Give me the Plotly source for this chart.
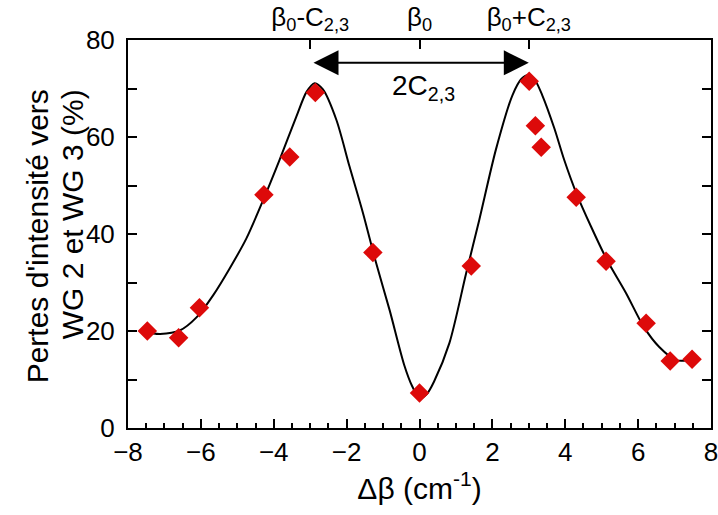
import plotly.graph_objects as go

# Measured points (red diamonds)
x_meas = [-7.47, -6.61, -6.04, -4.27, -3.56, -2.86, -1.28, 0.00, 1.42, 3.01, 3.18, 3.34, 4.30, 5.12, 6.22, 6.88, 7.48]
y_meas = [20.0, 18.6, 24.8, 48.1, 55.9, 69.2, 36.2, 7.2, 33.4, 71.5, 62.3, 57.9, 47.6, 34.4, 21.6, 13.8, 14.2]

# Fitted curve
x_fit = [-7.53, -7.12, -6.58, -6.12, -5.66, -5.21, -4.75, -4.29, -3.84, -3.38, -3.10, -2.88, -2.65,
         -2.28, -1.92, -1.55, -1.19, -0.82, -0.42, -0.20, 0.00, 0.20, 0.40, 0.82, 1.28, 1.64, 2.10,
         2.55, 2.80, 3.00, 3.18, 3.37, 3.70, 3.97, 4.30, 4.71, 5.15, 5.67, 6.16, 6.58, 7.04, 7.30, 7.62]
y_fit = [19.7, 19.4, 20.1, 22.8, 27.4, 32.9, 39.1, 47.0, 55.3, 64.2, 69.3, 71.1, 69.8,
         63.5, 53.9, 44.3, 34.0, 24.3, 13.0, 8.6, 6.1, 7.0, 9.6, 17.5, 31.9, 42.9, 57.5,
         68.6, 72.0, 72.8, 71.6, 68.6, 61.8, 55.3, 48.5, 41.5, 34.6, 27.8, 20.8, 16.7, 14.0, 13.9, 14.1]

x_tickvals = [-8, -6, -4, -2, 0, 2, 4, 6, 8]
x_ticktext = ["−8", "−6", "−4", "−2", "0", "2", "4", "6", "8"]

top_vals = [-3, 0, 3]
top_text = ["β<sub>0</sub>-C<sub>2,3</sub>", "β<sub>0</sub>", "β<sub>0</sub>+C<sub>2,3</sub>"]

ytitle_lines = ["Pertes d'intensité vers", "WG 2 et WG 3 (%)"]

FONT = "Liberation Sans, Arial, Helvetica, sans-serif"

fig = go.Figure()
fig.add_trace(go.Scatter(x=x_fit, y=y_fit, mode="lines",
                         line=dict(color="black", width=2, shape="spline", smoothing=0.8),
                         showlegend=False, hoverinfo="skip"))
fig.add_trace(go.Scatter(x=x_meas, y=y_meas, mode="markers",
                         marker=dict(symbol="diamond", size=15, color="#DD0A0A", line=dict(width=0)),
                         showlegend=False))
# dummy trace for top axis
fig.add_trace(go.Scatter(x=[-8, 8], y=[None, None], xaxis="x2", showlegend=False, hoverinfo="skip"))

fig.update_layout(
    width=718, height=515,
    margin=dict(l=128, r=7, t=40, b=87),
    paper_bgcolor="white", plot_bgcolor="white",
    font=dict(family=FONT, size=26, color="black"),
    xaxis=dict(range=[-8, 8], tickvals=x_tickvals, ticktext=x_ticktext,
               showgrid=False, zeroline=False, automargin=False,
               showline=True, linecolor="black", linewidth=2, mirror=True,
               ticks="inside", ticklen=9, tickwidth=2, tickcolor="black",
               minor=dict(dtick=0.5, tick0=-8, ticks="inside", ticklen=5, tickwidth=1.5, tickcolor="black"),
               tickfont=dict(size=26), ticklabelstandoff=0,
               ticklabeloverflow="allow",
               title=dict(text="Δβ (cm<sup>-1</sup>)", font=dict(size=30), standoff=10)),
    xaxis2=dict(range=[-8, 8], overlaying="x", side="top", tickvals=top_vals, ticktext=top_text,
                ticks="inside", ticklen=9, tickwidth=2, tickcolor="black", showgrid=False,
                zeroline=False, showline=False, tickfont=dict(size=26), automargin=False,
                ticklabelstandoff=8, ticklabeloverflow="allow"),
    yaxis=dict(range=[0, 80], dtick=20, showgrid=False, zeroline=False, automargin=False,
               showline=True, linecolor="black", linewidth=2, mirror="allticks",
               ticks="inside", ticklen=9, tickwidth=2, tickcolor="black",
               minor=dict(dtick=10, ticks="inside", ticklen=9, tickwidth=1.5, tickcolor="black"),
               tickfont=dict(size=26), ticklabelstandoff=6, ticklabeloverflow="allow"),
)

for line, xs in zip(ytitle_lines, [-91, -56]):
    fig.add_annotation(x=0, y=0.878, xref="paper", yref="paper", text=line, showarrow=False,
                       textangle=-90, xanchor="center", yanchor="top", xshift=xs,
                       font=dict(size=30))

fig.add_annotation(x=3.0, y=75.3, ax=-2.95, ay=75.3, xref="x", yref="y", axref="x", ayref="y",
                   text="", showarrow=True, arrowhead=2, startarrowhead=2, arrowside="end+start",
                   arrowwidth=2, arrowsize=2.5, startarrowsize=2.5, arrowcolor="black")
fig.add_annotation(x=0.1, y=70.2, xref="x", yref="y", text="2C<sub>2,3</sub>", showarrow=False,
                   font=dict(size=28))

# remove the default 8px page margin so the figure sits at the window's top-left corner
fig.write_html("out.html", config={"displayModeBar": False},
               post_script="document.body.style.margin='0';")
